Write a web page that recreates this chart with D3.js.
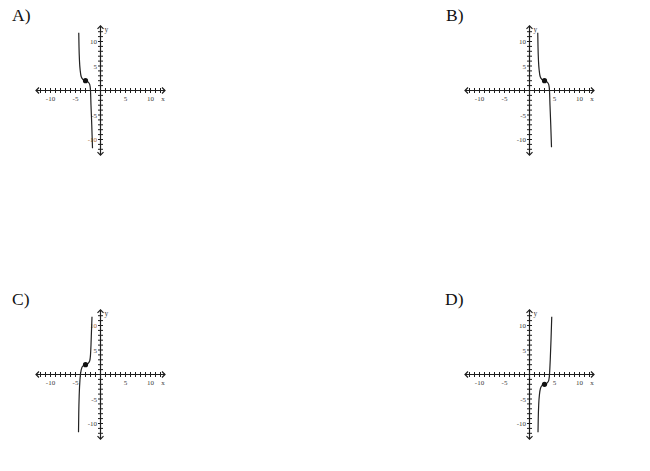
<!DOCTYPE html>
<html>
<head>
<meta charset="utf-8">
<script src="https://cdn.jsdelivr.net/npm/d3@7"></script>
<style>
  body { margin: 0; background: #fff; }
  svg { display: block; }
</style>
</head>
<body>
<div id="chart"></div>
<script>
// answer choices
const choiceLabels = ["A)", "B)", "C)", "D)"];

// curve points, [x, y]
const curveA = [[-4.35, 11.8], [-4.3, 9], [-4.2, 6], [-4.05, 4], [-3.85, 2.8], [-3.5, 2.25], [-3, 2],
  [-2.5, 1.75], [-2.15, 1.2], [-2, 0], [-1.9, -3], [-1.75, -7], [-1.6, -11.8]];
const curveB = [[1.65, 11.8], [1.7, 9], [1.8, 6], [1.95, 4], [2.15, 2.8], [2.5, 2.25], [3, 2],
  [3.5, 1.75], [3.85, 1.2], [4, 0], [4.1, -3], [4.25, -7], [4.4, -11.6]];
const curveC = [[-4.4, -11.8], [-4.35, -8], [-4.25, -4], [-4.1, -1], [-3.85, 1], [-3.5, 1.75], [-3, 2],
  [-2.5, 2.25], [-2.15, 2.8], [-2, 4], [-1.9, 6], [-1.8, 9], [-1.7, 11.8]];
const curveD = [[1.7, -11.8], [1.75, -9], [1.85, -6], [2, -4], [2.2, -2.8], [2.5, -2.25], [3, -2],
  [3.5, -1.75], [3.85, -1.2], [4, 0], [4.15, 3], [4.3, 7], [4.45, 11.8]];

// the marked point on each curve
const pointX = [-3, 3, -3, 3];
const pointY = [2, 2, 2, -2];

// axis labels
const tickLabels = [-10, -5, 5, 10];
const tickMarks = d3.range(-12, 13).filter((d) => d !== 0);

const curves = [curveA, curveB, curveC, curveD];

const W = 650, H = 471;
// origin of each little grid on the page
const origins = [[100.5, 90.5], [529.5, 90.5], [100.5, 374.5], [529.5, 374.5]];
const labelPos = [[12, 21], [446, 21], [12, 305], [445, 305]];

const svg = d3.select("#chart").append("svg").attr("width", W).attr("height", H);

const ink = "#1e1e1e";
const small = "#3a3a3a";

choiceLabels.forEach((lab, i) => {
  const [ox, oy] = origins[i];
  const x = d3.scaleLinear().domain([-10, 10]).range([ox - 50, ox + 50]);
  const y = d3.scaleLinear().domain([-10, 10]).range([oy + 49, oy - 49]);

  svg.append("text")
    .attr("x", labelPos[i][0])
    .attr("y", labelPos[i][1])
    .attr("font-family", "Liberation Serif, serif")
    .attr("font-size", 17.5)
    .attr("fill", "#111")
    .text(lab);

  const g = svg.append("g");

  // axes lines
  g.append("line")
    .attr("x1", x(-12.9)).attr("x2", x(12.9))
    .attr("y1", y(0)).attr("y2", y(0))
    .attr("stroke", ink).attr("stroke-width", 1.2);
  g.append("line")
    .attr("x1", x(0)).attr("x2", x(0))
    .attr("y1", y(13.2)).attr("y2", y(-13.2))
    .attr("stroke", ink).attr("stroke-width", 1.2);

  // arrow heads
  const a = 3;
  const heads = [
    `M${x(-12.9) + a},${y(0) - a}L${x(-12.9)},${y(0)}L${x(-12.9) + a},${y(0) + a}`,
    `M${x(12.9) - a},${y(0) - a}L${x(12.9)},${y(0)}L${x(12.9) - a},${y(0) + a}`,
    `M${x(0) - a},${y(13.2) + a}L${x(0)},${y(13.2)}L${x(0) + a},${y(13.2) + a}`,
    `M${x(0) - a},${y(-13.2) - a}L${x(0)},${y(-13.2)}L${x(0) + a},${y(-13.2) - a}`
  ];
  g.selectAll("path.head").data(heads).enter().append("path")
    .attr("class", "head")
    .attr("d", (d) => d)
    .attr("fill", "none").attr("stroke", ink).attr("stroke-width", 1.2);

  // tick marks
  g.selectAll("line.xt").data(tickMarks).enter().append("line")
    .attr("class", "xt")
    .attr("x1", (d) => x(d)).attr("x2", (d) => x(d))
    .attr("y1", y(0) - 2.5).attr("y2", y(0) + 2.5)
    .attr("stroke", ink).attr("stroke-width", 1);
  g.selectAll("line.yt").data(tickMarks).enter().append("line")
    .attr("class", "yt")
    .attr("x1", x(0) - 2.5).attr("x2", x(0) + 2.5)
    .attr("y1", (d) => y(d)).attr("y2", (d) => y(d))
    .attr("stroke", ink).attr("stroke-width", 1);

  // tick labels
  g.selectAll("text.xl").data(tickLabels).enter().append("text")
    .attr("class", "xl")
    .attr("x", (d) => x(d))
    .attr("y", y(0) + 10.5)
    .attr("text-anchor", "middle")
    .attr("font-family", "Liberation Serif, serif")
    .attr("font-size", 7)
    .attr("fill", small)
    .text((d) => d);
  g.selectAll("text.yl").data(tickLabels).enter().append("text")
    .attr("class", "yl")
    .attr("x", x(0) - 3.5)
    .attr("y", (d) => y(d) + 2.5)
    .attr("text-anchor", "end")
    .attr("font-family", "Liberation Serif, serif")
    .attr("font-size", 7)
    .attr("fill", (d) => ((i === 0 && d === -10) || (i === 2 && d === 10) ? "#a8672f" : small))
    .text((d) => d);

  g.append("text")
    .attr("x", x(12.5)).attr("y", y(0) + 10)
    .attr("text-anchor", "middle")
    .attr("font-family", "Liberation Serif, serif")
    .attr("font-size", 7).attr("fill", small)
    .text("x");
  g.append("text")
    .attr("x", x(0) + 4).attr("y", y(12))
    .attr("font-family", "Liberation Serif, serif")
    .attr("font-size", 7.5).attr("fill", small)
    .text("y");

  // the curve
  const line = d3.line()
    .x((d) => x(d[0]))
    .y((d) => y(d[1]))
    .curve(d3.curveMonotoneX);

  g.append("path")
    .datum(curves[i])
    .attr("d", line)
    .attr("fill", "none")
    .attr("stroke", "#222")
    .attr("stroke-width", 1.2);

  g.append("circle")
    .attr("cx", x(pointX[i]))
    .attr("cy", y(pointY[i]))
    .attr("r", 2.6)
    .attr("fill", "#111");
});
</script>
</body>
</html>
